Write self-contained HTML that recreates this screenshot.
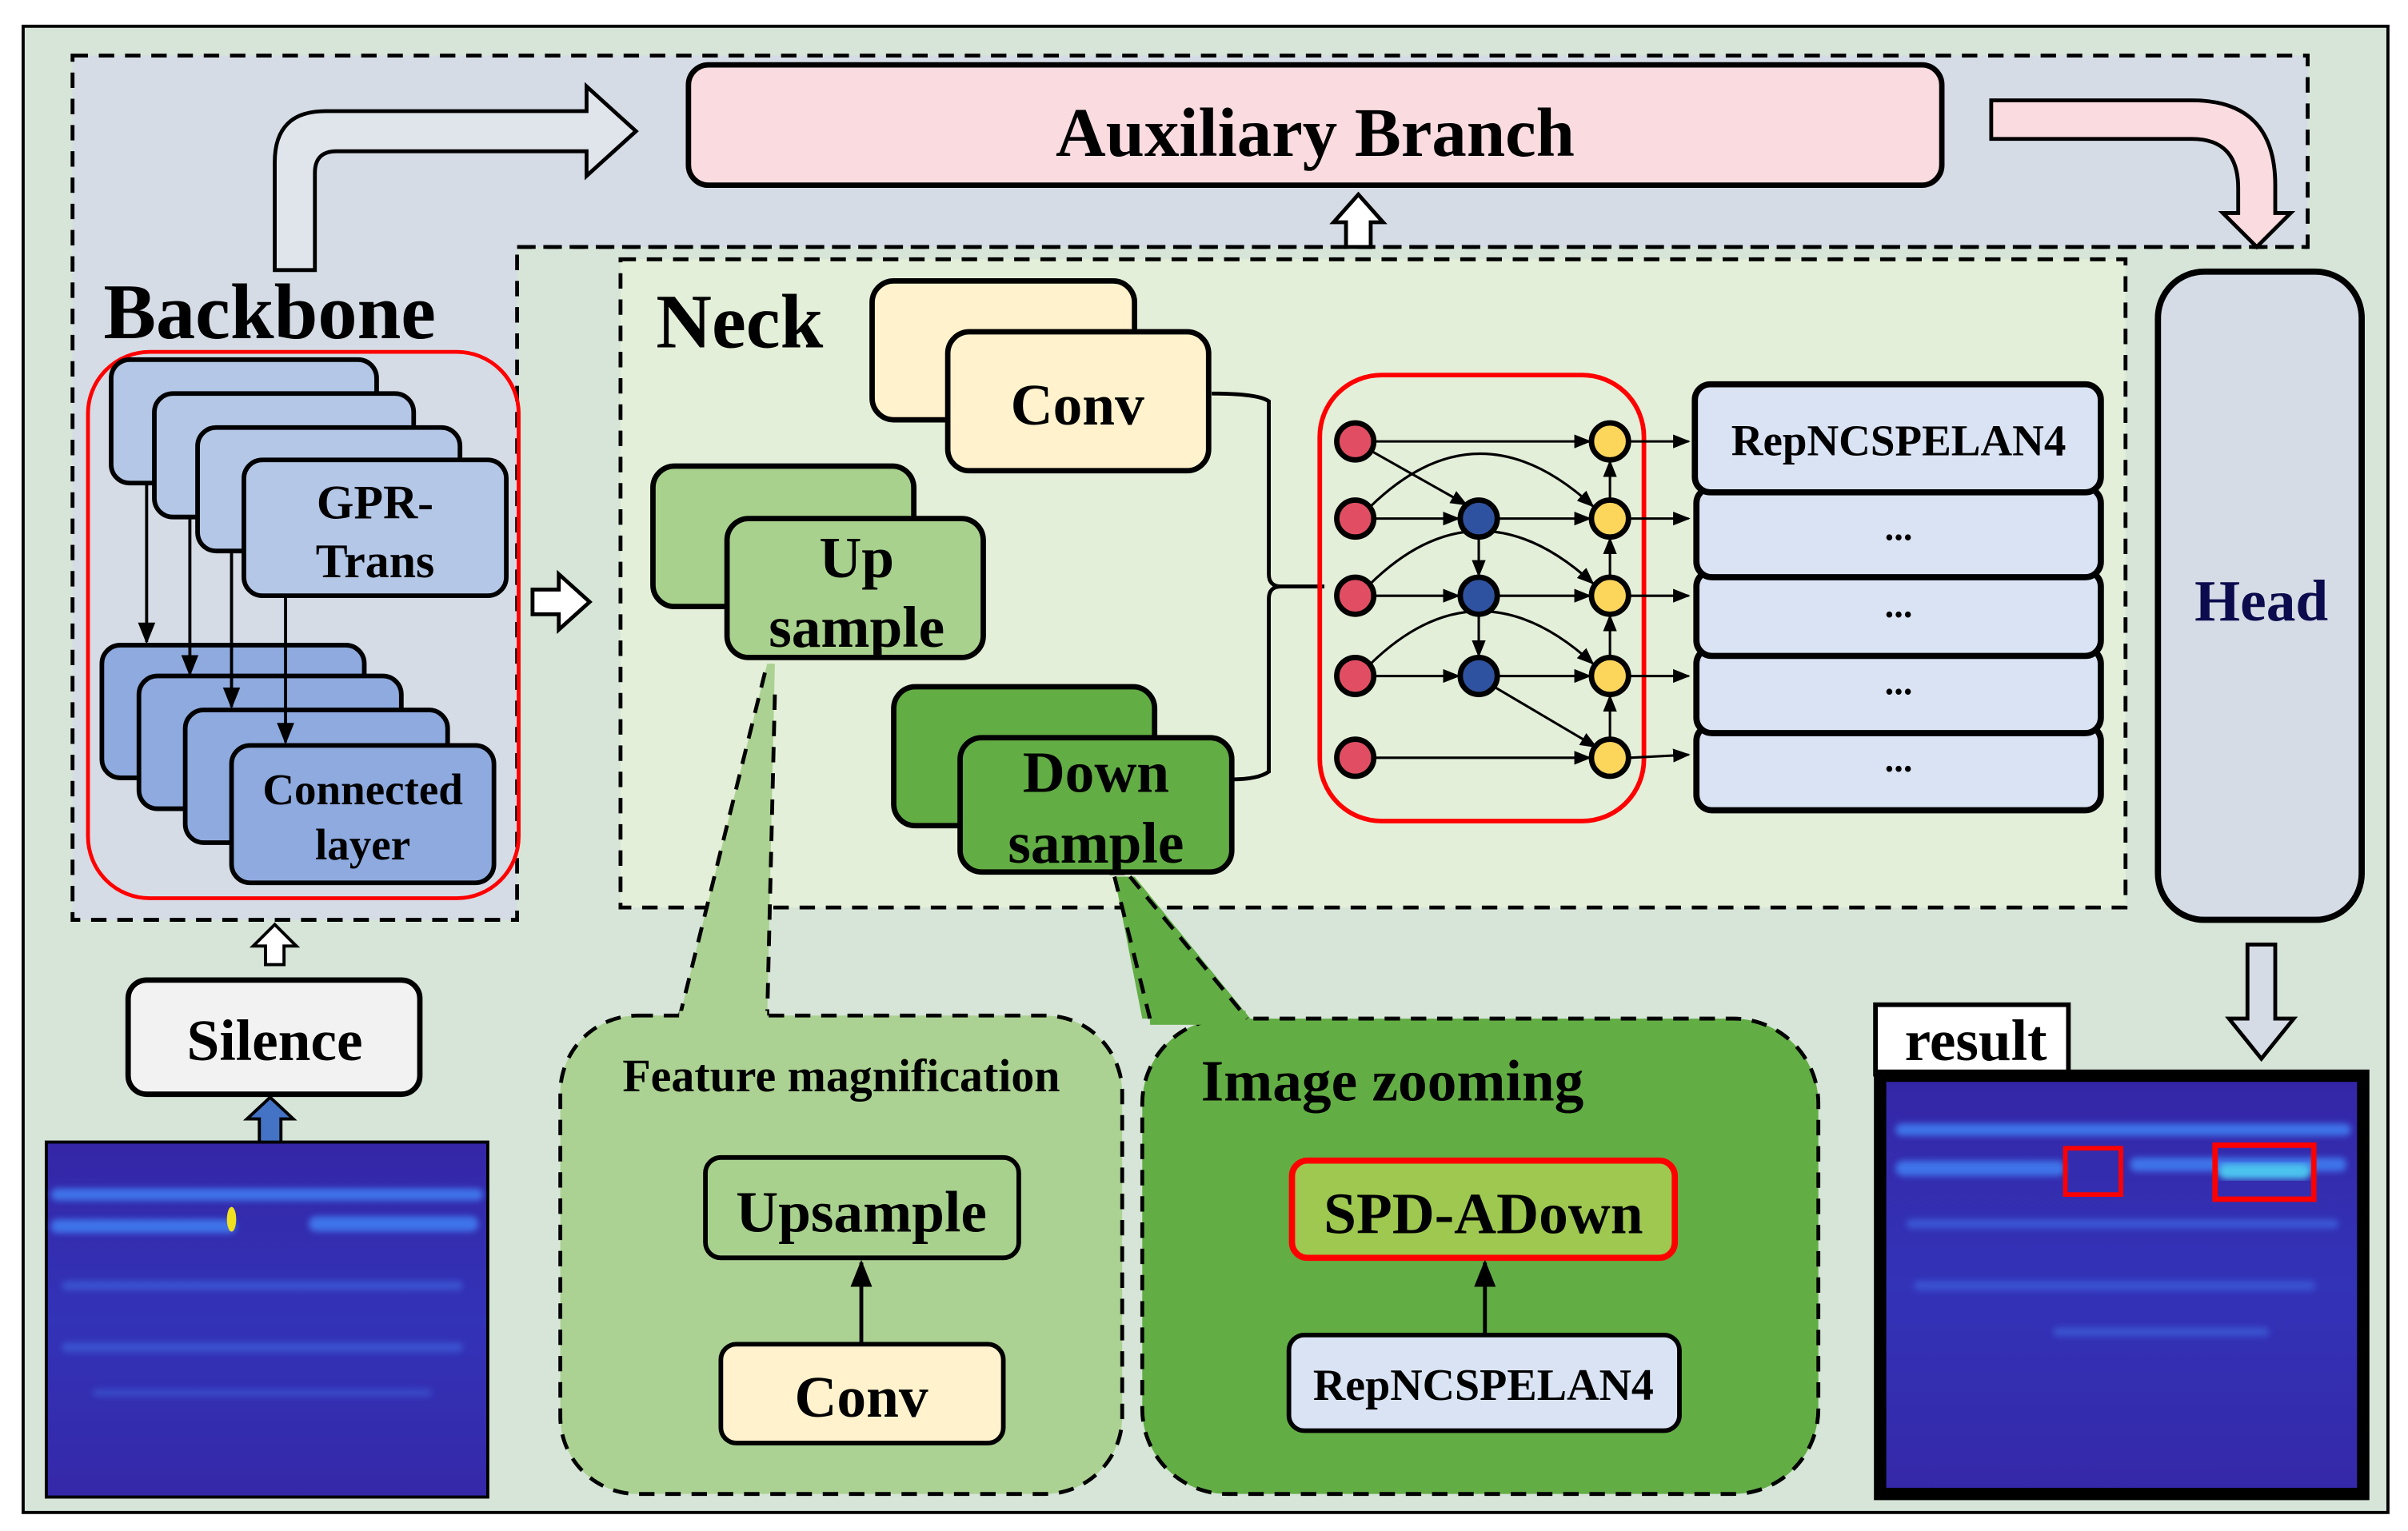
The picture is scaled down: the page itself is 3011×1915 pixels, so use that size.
<!DOCTYPE html>
<html><head><meta charset="utf-8"><style>
html,body{margin:0;padding:0;background:#fff;}
svg{display:block;}
text{font-family:"Liberation Serif",serif;font-weight:bold;}
</style></head><body>
<svg width="3011" height="1915" viewBox="0 0 1560 992" preserveAspectRatio="none" xmlns="http://www.w3.org/2000/svg">
<defs>
<marker id="ah" viewBox="0 0 10 10" refX="9" refY="5" markerWidth="7" markerHeight="7" orient="auto-start-reverse"><path d="M0,1 L10,5 L0,9 z" fill="#000"/></marker>
<linearGradient id="hm" x1="0" y1="0" x2="0" y2="1"><stop offset="0" stop-color="#3426a6"/><stop offset="0.5" stop-color="#3333b8"/><stop offset="1" stop-color="#3528a8"/></linearGradient>
<filter id="bl"><feGaussianBlur stdDeviation="2"/></filter>
</defs>
<rect x="0" y="0" width="1560" height="992" fill="#fff"/>
<rect x="15" y="17" width="1532" height="963" fill="#d6e5d8" stroke="#000" stroke-width="2"/>
<path d="M47,36 H1495 V160 H335 V596 H47 Z" fill="#d5dce6" stroke="#000" stroke-width="2.5" stroke-dasharray="10,7"/>
<rect x="402" y="168" width="975" height="420" fill="#e4efd9" stroke="#000" stroke-width="2.5" stroke-dasharray="10,7"/>
<line x1="335" y1="160" x2="1495" y2="160" stroke="#000" stroke-width="2.5" stroke-dasharray="10,7"/>
<rect x="446" y="42" width="812" height="78" rx="13" fill="#f9dbe0" stroke="#000" stroke-width="3.5"/>
<text x="852" y="101" font-size="45" text-anchor="middle">Auxiliary Branch</text>
<path d="M178,175 V105 Q178,72 211,72 H380 V56 L412,85 L380,114 V98 H218 Q204,98 204,112 V175 Z" fill="#e0e5ec" stroke="#000" stroke-width="2.5"/>
<path d="M1290,65 H1420 Q1474,65 1474,120 V138 H1484 L1462,160 L1440,138 H1450 V122 Q1450,90 1420,90 H1290 Z" fill="#f9dbe0" stroke="#000" stroke-width="2.5"/>
<path d="M872,160 V144 H864 L880,126 L896,144 H888 V160 Z" fill="#fff" stroke="#000" stroke-width="2.5"/>
<text x="67" y="219" font-size="51">Backbone</text>
<rect x="57" y="228" width="279" height="354" rx="40" fill="none" stroke="#f00" stroke-width="2.5"/>
<g fill="#b4c7e7" stroke="#000" stroke-width="3">
<rect x="72" y="233" width="172" height="80" rx="12"/>
<rect x="100" y="255" width="168" height="80" rx="12"/>
<rect x="128" y="277" width="170" height="80" rx="12"/>
<rect x="158" y="298" width="170" height="88" rx="12"/>
</g>
<text x="243" y="336" font-size="31" text-anchor="middle">GPR-</text>
<text x="243" y="374" font-size="31" text-anchor="middle">Trans</text>
<g fill="#8eaadf" stroke="#000" stroke-width="3">
<rect x="66" y="418" width="170" height="86" rx="12"/>
<rect x="90" y="438" width="170" height="86" rx="12"/>
<rect x="120" y="460" width="170" height="86" rx="12"/>
<rect x="150" y="483" width="170" height="89" rx="12"/>
</g>
<text x="235" y="521" font-size="28.5" text-anchor="middle">Connected</text>
<text x="235" y="557" font-size="28.5" text-anchor="middle">layer</text>
<g stroke="#000" stroke-width="2" marker-end="url(#ah)">
<line x1="95" y1="313" x2="95" y2="416"/>
<line x1="123" y1="335" x2="123" y2="437"/>
<line x1="150" y1="357" x2="150" y2="458"/>
<line x1="185" y1="386" x2="185" y2="481"/>
</g>
<path d="M345,382 H362 V372 L382,390 L362,408 V398 H345 Z" fill="#fff" stroke="#000" stroke-width="2.5"/>
<text x="425" y="225" font-size="50">Neck</text>
<rect x="565" y="182" width="170" height="90" rx="14" fill="#fff2cc" stroke="#000" stroke-width="3.5"/>
<rect x="614" y="215" width="169" height="90" rx="14" fill="#fff2cc" stroke="#000" stroke-width="3.5"/>
<text x="698" y="275" font-size="38" text-anchor="middle">Conv</text>
<rect x="423" y="302" width="169" height="91" rx="14" fill="#a9d18e" stroke="#000" stroke-width="3.5"/>
<rect x="471" y="336" width="166" height="90" rx="14" fill="#a9d18e" stroke="#000" stroke-width="3.5"/>
<text x="555" y="374" font-size="38" text-anchor="middle">Up</text>
<text x="555" y="419" font-size="38" text-anchor="middle">sample</text>
<rect x="579" y="445" width="169" height="90" rx="14" fill="#63ad45" stroke="#000" stroke-width="3.5"/>
<rect x="622" y="478" width="176" height="87" rx="14" fill="#63ad45" stroke="#000" stroke-width="3.5"/>
<text x="710" y="513" font-size="38" text-anchor="middle">Down</text>
<text x="710" y="559" font-size="38" text-anchor="middle">sample</text>
<path d="M785,255 Q815,255 822,260 V372 Q822,380 830,380 H858 M798,505 Q815,505 822,500 V388 Q822,380 830,380" fill="none" stroke="#000" stroke-width="2.5"/>
<rect x="855" y="243" width="210" height="289" rx="40" fill="none" stroke="#f00" stroke-width="3"/>
<g stroke="#000" stroke-width="1.6" fill="none" marker-end="url(#ah)">
<line x1="890" y1="286" x2="1030" y2="286"/>
<line x1="890" y1="491" x2="1030" y2="491"/>
<line x1="888" y1="292" x2="950" y2="327"/>
<line x1="968" y1="445" x2="1034" y2="484"/>
<line x1="890" y1="336" x2="945" y2="336"/><line x1="971" y1="336" x2="1030" y2="336"/>
<line x1="890" y1="386" x2="945" y2="386"/><line x1="971" y1="386" x2="1030" y2="386"/>
<line x1="890" y1="438" x2="945" y2="438"/><line x1="971" y1="438" x2="1030" y2="438"/>
<line x1="958" y1="349" x2="958" y2="373"/><line x1="958" y1="399" x2="958" y2="425"/>
<line x1="1043" y1="478" x2="1043" y2="451"/><line x1="1043" y1="425" x2="1043" y2="399"/>
<line x1="1043" y1="373" x2="1043" y2="349"/><line x1="1043" y1="323" x2="1043" y2="299"/>
<path d="M888,328 Q958,260 1032,328"/>
<path d="M888,378 Q958,310 1032,378"/>
<path d="M888,430 Q958,362 1032,430"/>
<line x1="1056" y1="286" x2="1094" y2="286"/><line x1="1056" y1="336" x2="1094" y2="336"/>
<line x1="1056" y1="386" x2="1094" y2="386"/><line x1="1056" y1="438" x2="1094" y2="438"/>
<line x1="1056" y1="491" x2="1094" y2="489"/>
</g>
<g stroke="#000" stroke-width="3.5">
<g fill="#e14e63"><circle cx="878" cy="286" r="12"/><circle cx="878" cy="336" r="12"/><circle cx="878" cy="386" r="12"/><circle cx="878" cy="438" r="12"/><circle cx="878" cy="491" r="12"/></g>
<g fill="#2f52a0"><circle cx="958" cy="336" r="12"/><circle cx="958" cy="386" r="12"/><circle cx="958" cy="438" r="12"/></g>
<g fill="#fcd55b"><circle cx="1043" cy="286" r="12"/><circle cx="1043" cy="336" r="12"/><circle cx="1043" cy="386" r="12"/><circle cx="1043" cy="438" r="12"/><circle cx="1043" cy="491" r="12"/></g>
</g>
<g fill="#dae3f3" stroke="#000" stroke-width="4">
<rect x="1099" y="470" width="262" height="55" rx="10"/>
<rect x="1099" y="420" width="262" height="55" rx="10"/>
<rect x="1099" y="370" width="262" height="55" rx="10"/>
<rect x="1099" y="316" width="262" height="58" rx="10"/>
<rect x="1098" y="249" width="263" height="70" rx="10"/>
</g>
<text x="1230" y="295" font-size="28.5" text-anchor="middle">RepNCSPELAN4</text>
<g font-size="24" text-anchor="middle"><text x="1230" y="350">...</text><text x="1230" y="400">...</text><text x="1230" y="450">...</text><text x="1230" y="500">...</text></g>
<rect x="1398" y="176" width="132" height="420" rx="30" fill="#d5dce6" stroke="#000" stroke-width="4"/>
<text x="1465" y="402" font-size="38" text-anchor="middle" fill="#0b0b4d">Head</text>
<path d="M1456,612 H1474 V660 H1486 L1465,686 L1444,660 H1456 Z" fill="#d5dce6" stroke="#000" stroke-width="2.5"/>
<rect x="1215" y="651" width="125" height="45" fill="#fff" stroke="#000" stroke-width="3"/>
<text x="1280" y="687" font-size="38" text-anchor="middle">result</text>
<rect x="1218" y="697" width="313" height="271" fill="url(#hm)" stroke="#000" stroke-width="8"/>
<g filter="url(#bl)" fill="#3f7cf0" opacity="0.9">
<rect x="1228" y="728" width="295" height="8" rx="4"/><rect x="1228" y="752" width="110" height="10" rx="5"/>
<rect x="1380" y="750" width="140" height="9" rx="4"/><rect x="1235" y="790" width="280" height="6" rx="3" opacity="0.6"/>
<rect x="1240" y="830" width="260" height="6" rx="3" opacity="0.5"/><rect x="1330" y="860" width="140" height="6" rx="3" opacity="0.5"/>
</g>
<rect x="1437" y="754" width="60" height="10" rx="5" fill="#4cc3ee" filter="url(#bl)"/>
<rect x="1338" y="744" width="36" height="30" fill="none" stroke="#f00" stroke-width="3"/>
<rect x="1435" y="742" width="64" height="35" fill="none" stroke="#f00" stroke-width="3.5"/>
<rect x="30" y="740" width="286" height="230" fill="url(#hm)" stroke="#000" stroke-width="2"/>
<g filter="url(#bl)" fill="#3f7cf0" opacity="0.9">
<rect x="33" y="770" width="280" height="8" rx="4"/><rect x="33" y="790" width="120" height="9" rx="4"/>
<rect x="200" y="788" width="110" height="10" rx="5"/><rect x="40" y="830" width="260" height="6" rx="3" opacity="0.5"/>
<rect x="40" y="870" width="260" height="6" rx="3" opacity="0.5"/><rect x="60" y="900" width="220" height="5" rx="3" opacity="0.4"/>
</g>
<ellipse cx="150" cy="790" rx="3" ry="8" fill="#f0e020"/>
<rect x="83" y="635" width="189" height="74" rx="12" fill="#f2f2f2" stroke="#000" stroke-width="3.5"/>
<text x="178" y="687" font-size="38" text-anchor="middle">Silence</text>
<path d="M172,625 V613 H164 L178,599 L192,613 H184 V625 Z" fill="#fff" stroke="#000" stroke-width="2"/>
<path d="M168,740 V725 H160 L175,711 L190,725 H182 V740 Z" fill="#4472c4" stroke="#000" stroke-width="2"/>
<path d="M440,660 L497,430 L502,430 L497,660 Z" fill="#acd293"/>
<path d="M440,660 L497,430 M502,450 L497,660" stroke="#000" stroke-width="2.5" stroke-dasharray="10,7" fill="none"/>
<rect x="363" y="658" width="364" height="310" rx="50" fill="#acd293" stroke="#000" stroke-width="2.5" stroke-dasharray="10,7"/>
<rect x="440" y="655" width="57" height="8" fill="#acd293"/>
<text x="545" y="707" font-size="30" text-anchor="middle">Feature magnification</text>
<rect x="457" y="750" width="203" height="65" rx="10" fill="#a9d18e" stroke="#000" stroke-width="3"/>
<text x="558" y="798" font-size="38" text-anchor="middle">Upsample</text>
<rect x="467" y="871" width="183" height="64" rx="10" fill="#fff2cc" stroke="#000" stroke-width="3"/>
<text x="558" y="918" font-size="38" text-anchor="middle">Conv</text>
<line x1="558" y1="870" x2="558" y2="818" stroke="#000" stroke-width="2.5" marker-end="url(#ah)"/>
<path d="M722,568 L740,660 L810,660 L735,568 Z" fill="#63ad45"/>
<rect x="740" y="660" width="438" height="308" rx="55" fill="#63ad45" stroke="#000" stroke-width="2.5" stroke-dasharray="10,7"/>
<rect x="745" y="655" width="62" height="9" fill="#63ad45"/>
<path d="M722,568 L745,660 M732,568 L808,660" stroke="#000" stroke-width="2.5" stroke-dasharray="10,7" fill="none"/>
<text x="778" y="713" font-size="38">Image zooming</text>
<rect x="837" y="752" width="248" height="63" rx="10" fill="#9ec850" stroke="#f00" stroke-width="4"/>
<text x="961" y="799" font-size="38" text-anchor="middle">SPD-ADown</text>
<rect x="835" y="865" width="253" height="62" rx="10" fill="#dae3f3" stroke="#000" stroke-width="3"/>
<text x="961" y="907" font-size="29" text-anchor="middle">RepNCSPELAN4</text>
<line x1="962" y1="864" x2="962" y2="818" stroke="#000" stroke-width="2.5" marker-end="url(#ah)"/>
</svg>
</body></html>
